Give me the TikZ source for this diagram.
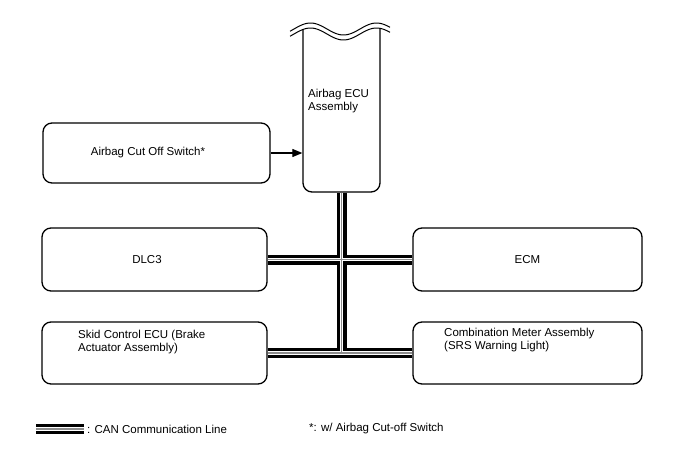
\documentclass[tikz,border=0pt]{standalone}
\usepackage{fontspec}
\setmainfont{Liberation Sans}
\usepackage{tikz}
\usetikzlibrary{arrows.meta, positioning, calc}
\tikzset{
  unitbox/.style={rectangle,rounded corners=9pt,draw=black,line width=1.3pt,
    fill=white,inner sep=0pt},
  labeltext/.style={align=left,inner sep=0pt,font=\fontsize{11.5}{13}\selectfont},
  arrow/.style={-{Triangle[length=10pt,width=8pt]},line width=1.1pt}
}

\begin{document}
\begin{tikzpicture}[x=1pt,y=-1pt,font=\fontsize{11.5}{13}\selectfont]
  \useasboundingbox (0,0) rectangle (688,463);
  % ECU (top is cut by the wave)
  \node[unitbox,minimum width=77pt,minimum height=174pt] (ecu) at (341.5,105) {};
  \fill[white] plot[domain=288:392,samples=60] (\x,{34-6*sin((\x-294)*5.4545)})
    -- (392,0) -- (288,0) -- cycle;
  \foreach \o in {0,5}
    \draw[line width=1pt] plot[domain=290:390,samples=60] (\x,{29+\o-6*sin((\x-294)*5.4545)});
  \node[labeltext,anchor=north west] (ecut) at (308,89) {Airbag ECU\\Assembly};
  % boxes
  \node[unitbox,minimum width=227pt,minimum height=60pt] (sw) at (156.5,153) {};
  \node[unitbox,minimum width=225pt,minimum height=63pt] (dlc) at (154.5,259.5) {};
  \node[unitbox,minimum width=229pt,minimum height=63pt] (ecm) at (527.5,259.5) {ECM};
  \node[unitbox,minimum width=225pt,minimum height=62pt] (skid) at (154.5,353) {};
  \node[unitbox,minimum width=229pt,minimum height=62pt] (meter) at (527.5,353) {};
  \node[labeltext] (swt) at (148,153) {Airbag Cut Off Switch*};
  \node[labeltext] (dlct) at (147,259.5) {DLC3};
  \node[labeltext,anchor=north west] (skidt) at (78,330) {Skid Control ECU (Brake\\Actuator Assembly)};
  \node[labeltext,anchor=north west] (metert) at (444,328) {Combination Meter Assembly\\(SRS Warning Light)};
  \draw[arrow] (sw.east) -- (sw.east -| ecu.west);
  % CAN lines
  \coordinate (la) at (36,429);
  \coordinate (lb) at (84,429);
  \foreach \w/\c in {10/black,3.6/white,1.3/black!45}
    \draw[line width=\w pt,\c] (ecu.south) -- (ecu.south |- skid.east)
      (dlc.east) -- (ecm.west) (skid.east) -- (meter.west) (la) -- (lb);
  % legend
  \node[labeltext,anchor=west] (cantxt) at (87,429) {: CAN Communication Line};
  \node[labeltext,anchor=west] (note) at (309,429) {*: w/ Airbag Cut-off Switch};
\end{tikzpicture}
\end{document}
